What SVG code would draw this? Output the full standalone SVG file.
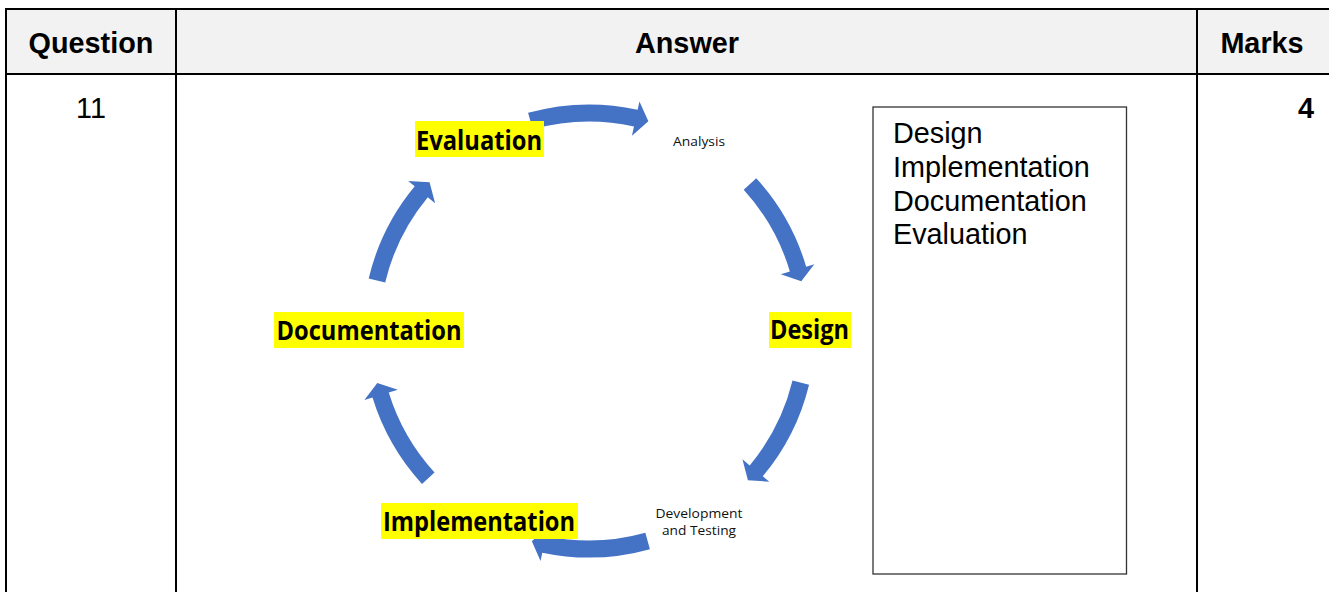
<svg xmlns="http://www.w3.org/2000/svg" width="1329" height="592" viewBox="0 0 1329 592">
<style>
.hdr{font-family:"Liberation Sans",Arial,sans-serif;font-weight:bold;font-size:28.8px;fill:#000}
.body{font-family:"Liberation Sans",Arial,sans-serif;font-size:28.8px;fill:#000}
.grid{stroke:#000;stroke-width:2;fill:none}
.arrow{fill:#4472C4;stroke:none}
.hl{fill:#FFFF00}
.lbl{font-family:"Open Sans","Noto Sans","Liberation Sans",sans-serif;font-weight:bold;font-size:26px;fill:#000}
.small{font-family:"Open Sans","Noto Sans","Liberation Sans",sans-serif;font-size:13.5px;fill:#111}
</style>
<rect x="0" y="0" width="1329" height="592" fill="#fff"/>
<g id="table">
<rect x="6" y="9" width="1323" height="65" fill="#F2F2F2"/>
<line class="grid" x1="5" y1="9" x2="1329" y2="9"/>
<line class="grid" x1="5" y1="74" x2="1329" y2="74"/>
<line class="grid" x1="6" y1="8" x2="6" y2="592"/>
<line class="grid" x1="176" y1="8" x2="176" y2="592"/>
<line class="grid" x1="1197" y1="8" x2="1197" y2="592"/>
<text class="hdr" x="91" y="53" text-anchor="middle">Question</text>
<text class="hdr" x="687" y="53" text-anchor="middle">Answer</text>
<text class="hdr" x="1262" y="53" text-anchor="middle">Marks</text>
<text class="body" x="91" y="118" text-anchor="middle">11</text>
<text class="hdr" x="1314" y="118" text-anchor="end">4</text>
</g>
<g id="connectors">
<path class="arrow" d="M528.09,112.84 A226.5,226.5 0 0 1 637.64,109.78 L639.46,101.48 L648.36,121.24 L631.95,135.67 L633.99,126.39 A209.5,209.5 0 0 0 532.66,129.22 Z"/>
<path class="arrow" d="M756.26,178.27 A226.5,226.5 0 0 1 806.17,266.67 L814.32,264.26 L801.24,281.22 L780.76,274.20 L789.87,271.50 A209.5,209.5 0 0 0 743.71,189.73 Z"/>
<path class="arrow" d="M809.06,384.64 A226.5,226.5 0 0 1 762.76,476.29 L769.28,481.74 L747.92,480.23 L742.43,459.29 L749.72,465.38 A209.5,209.5 0 0 0 792.54,380.62 Z"/>
<path class="arrow" d="M649.91,549.16 A226.5,226.5 0 0 1 542.30,552.63 L540.54,560.95 L531.84,541.37 L547.76,526.70 L545.80,536.00 A209.5,209.5 0 0 0 645.34,532.78 Z"/>
<path class="arrow" d="M422.00,484.02 A226.5,226.5 0 0 1 372.51,397.60 L364.39,400.10 L377.29,383.00 L397.84,389.81 L388.76,392.60 A209.5,209.5 0 0 0 434.54,472.54 Z"/>
<path class="arrow" d="M368.67,278.51 A226.5,226.5 0 0 1 414.73,186.32 L408.19,180.89 L429.57,182.32 L435.12,203.25 L427.81,197.18 A209.5,209.5 0 0 0 385.20,282.45 Z"/>
</g>
<g id="node-evaluation">
<rect class="hl" x="415" y="121" width="129" height="36"/>
<text class="lbl" x="416" y="150" textLength="126" lengthAdjust="spacingAndGlyphs">Evaluation</text>
</g>
<g id="node-analysis">
<text class="small" x="699" y="146" text-anchor="middle" textLength="52" lengthAdjust="spacingAndGlyphs">Analysis</text>
</g>
<g id="node-design">
<rect class="hl" x="769" y="312" width="82" height="36"/>
<text class="lbl" x="770" y="339" textLength="79" lengthAdjust="spacingAndGlyphs">Design</text>
</g>
<g id="node-development">
<text class="small" x="699" y="518" text-anchor="middle" textLength="87" lengthAdjust="spacingAndGlyphs">Development</text>
<text class="small" x="699" y="535" text-anchor="middle" textLength="74" lengthAdjust="spacingAndGlyphs">and Testing</text>
</g>
<g id="node-implementation">
<rect class="hl" x="381" y="503" width="197" height="36"/>
<text class="lbl" x="383" y="531" textLength="192" lengthAdjust="spacingAndGlyphs">Implementation</text>
</g>
<g id="node-documentation">
<rect class="hl" x="274" y="312" width="190" height="36"/>
<text class="lbl" x="276.5" y="339.5" textLength="185" lengthAdjust="spacingAndGlyphs">Documentation</text>
</g>
<g id="answer-box">
<rect x="873" y="107" width="253.5" height="467" fill="#fff" stroke="#333" stroke-width="1.3"/>
<text class="body" x="893" y="143.3">Design</text>
<text class="body" x="893" y="177">Implementation</text>
<text class="body" x="893" y="210.7">Documentation</text>
<text class="body" x="893" y="244.4">Evaluation</text>
</g>
</svg>
